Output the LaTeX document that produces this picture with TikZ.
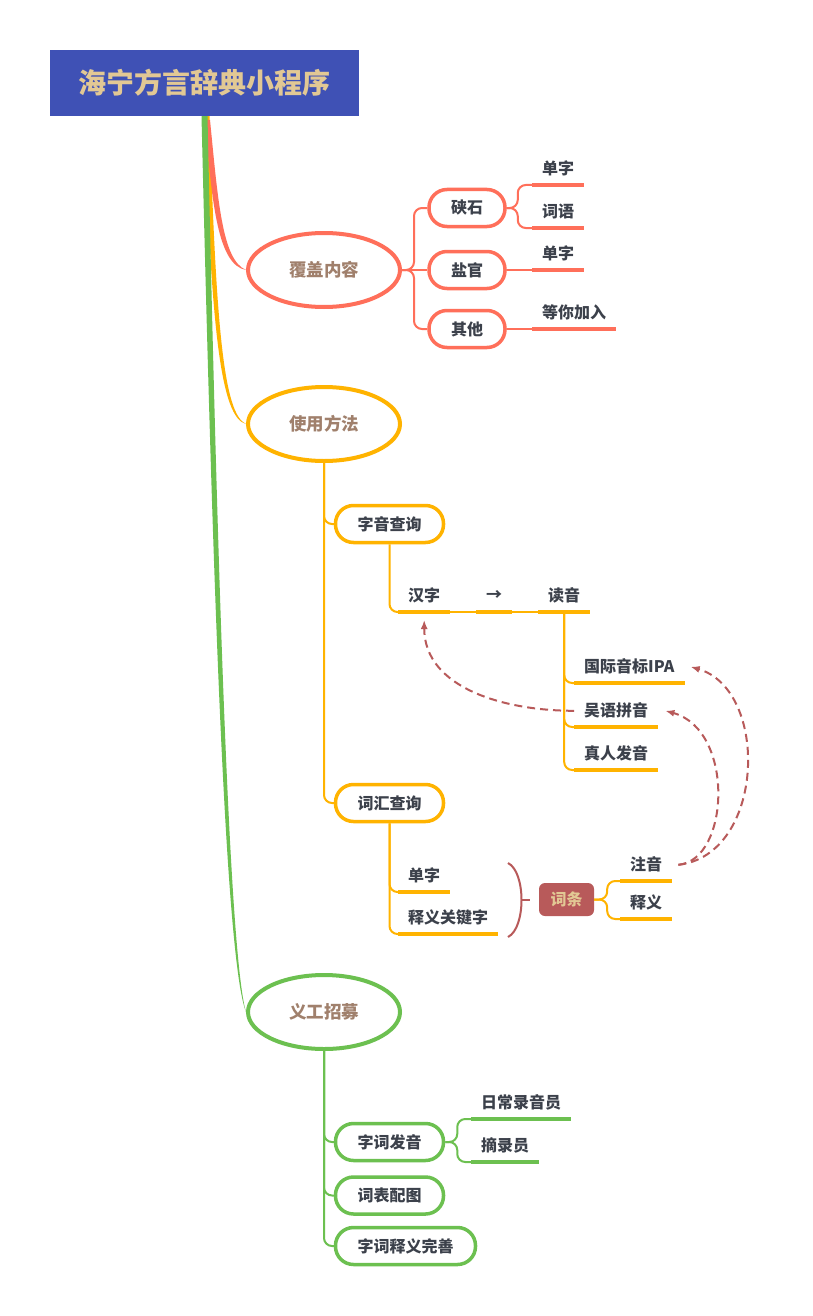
\documentclass[tikz,border=0pt]{standalone}
\usepackage{fontspec}
\setmainfont{Noto Sans CJK SC}
\usetikzlibrary{shapes.geometric,arrows.meta,positioning}

\definecolor{titleblue}{RGB}{63,81,181}
\definecolor{titletan}{RGB}{226,200,148}
\definecolor{mapred}{RGB}{255,111,90}
\definecolor{maporange}{RGB}{255,179,0}
\definecolor{mapgreen}{RGB}{108,192,80}
\definecolor{topicbrown}{RGB}{160,128,108}
\definecolor{inkgray}{RGB}{60,65,75}
\definecolor{entryred}{RGB}{184,90,90}

\tikzset{
	topic/.style={ellipse, draw, line width=4pt, minimum width=152pt, minimum height=74pt, text=topicbrown, font=\bfseries\fontsize{17.5}{18}\selectfont},
	pill/.style={draw, rounded corners=18pt, line width=3.5pt, minimum height=37pt, inner xsep=22pt, text=inkgray, font=\bfseries\fontsize{16}{16}\selectfont},
	leaf/.style={anchor=south west, inner xsep=10pt, inner ysep=0pt, minimum height=32pt, text=inkgray, font=\bfseries\fontsize{16}{16}\selectfont},
	uline/.style={line width=3.5pt},
	link/.style={line width=2pt, rounded corners=8pt},
	hint/.style={entryred, line width=2pt, dash pattern=on 8pt off 5pt, -{Latex[length=9pt,width=7pt]}},
}

\begin{document}
\begin{tikzpicture}[x=1pt,y=-1pt]
\fill[white] (0,0) rectangle (813,1316);
\useasboundingbox (0,0) rectangle (813,1316);

% title and the three topics
\node[fill=titleblue, minimum width=309pt, minimum height=66pt, text=titletan, font=\bfseries\fontsize{28}{28}\selectfont] (title) at (204.5,83) {海宁方言辞典小程序};
\node[topic, draw=mapred] (cover) at (324,270) {覆盖内容};
\node[topic, draw=maporange] (use) at (324,424) {使用方法};
\node[topic, draw=mapgreen] (vol) at (324,1012) {义工招募};

% tapered trunks
\fill[maporange] ([xshift=0pt]title.south) .. controls (211,330) and (221,418) .. (use.west)
	.. controls (224,414) and (216,330) .. ([xshift=5pt]title.south) -- cycle;
\fill[mapred] (205,120) .. controls (212,205) and (218,265) .. (cover.west)
	.. controls (222,260) and (218,200) .. (210,120) -- cycle;
\fill[mapgreen] ([xshift=-3pt]title.south) .. controls (213,600) and (226,962) .. (vol.west)
	.. controls (230,958) and (218,600) .. ([xshift=3pt]title.south) -- cycle;

% covered content
\node[pill, draw=mapred] (xs) at (467,208) {硖石};
\node[pill, draw=mapred] (yg) at (467,270) {盐官};
\node[pill, draw=mapred] (qt) at (467,329) {其他};
\node[leaf] (xs1) at (532,185) {单字};
\node[leaf] (xs2) at (532,228) {词语};
\node[leaf] (yg1) at (532,270) {单字};
\node[leaf] (qt1) at (532,329) {等你加入};

\draw[link, mapred] (cover.east) -- (yg.west);
\draw[link, mapred] (cover.east) -- ++(12,0) |- (xs.west);
\draw[link, mapred] (cover.east) -- ++(12,0) |- (qt.west);
\draw[link, mapred] (xs.east) -- ++(11,0) |- (xs1.south west);
\draw[link, mapred] (xs.east) -- ++(11,0) |- (xs2.south west);
\draw[link, mapred] (yg.east) -- (yg1.south west);
\draw[link, mapred] (qt.east) -- (qt1.south west);
\foreach \n in {xs1,xs2,yg1,qt1}
	\draw[uline, mapred] (\n.south west) -- (\n.south east);

% usage
\node[pill, draw=maporange] (zy) at (389.5,524) {字音查询};
\node[pill, draw=maporange] (ch) at (389.5,803) {词汇查询};
\node[leaf] (hz) at (398,612) {汉字};
\node[leaf] (arr) at (476,612) {→};
\node[leaf] (dy) at (538,612) {读音};
\node[leaf] (ipa) at (574,683) {国际音标IPA};
\node[leaf] (wy) at (574,727) {吴语拼音};
\node[leaf] (zr) at (574,770) {真人发音};
\node[leaf] (dz) at (398,892) {单字};
\node[leaf] (sy) at (398,934) {释义关键字};
\node[fill=entryred, rounded corners=6pt, minimum width=55pt, minimum height=33pt, text=titletan, font=\bfseries\fontsize{16}{16}\selectfont] (entry) at (566.5,899.5) {词条};
\node[leaf] (zy1) at (620,881) {注音};
\node[leaf] (sy2) at (620,919) {释义};

\draw[link, maporange] (use.south) |- (zy.west);
\draw[link, maporange] (use.south) |- (ch.west);
\draw[link, maporange] (zy.south) |- (hz.south west);
\draw[link, maporange] (hz.south east) -- (arr.south west);
\draw[link, maporange] (arr.south east) -- (dy.south west);
\draw[link, maporange] (dy.south) |- (ipa.south west);
\draw[link, maporange] (dy.south) |- (wy.south west);
\draw[link, maporange] (dy.south) |- (zr.south west);
\draw[link, maporange] (ch.south) |- (dz.south west);
\draw[link, maporange] (ch.south) |- (sy.south west);
\draw[link, maporange] (entry.east) -- ++(13,0) |- (zy1.south west);
\draw[link, maporange] (entry.east) -- ++(13,0) |- (sy2.south west);
\foreach \n in {hz,arr,dy,ipa,wy,zr,dz,sy,zy1,sy2}
	\draw[uline, maporange] (\n.south west) -- (\n.south east);

% brace before the entry
\draw[entryred, line width=2pt] (508,863) .. controls (526,872) and (526,928) .. (508,937);
\draw[entryred, line width=2pt] (521.5,900) -- (530,900);

% hints
\draw[hint] (wy.west) to[out=180, in=270] ([yshift=-8pt]hz.south);
\draw[hint] ([xshift=6pt]zy1.east) .. controls (730,860) and (735,730) .. ([xshift=7pt]wy.east);
\draw[hint] ([xshift=6pt]zy1.east) .. controls (765,855) and (770,690) .. ([xshift=6pt]ipa.east);

% volunteers
\node[pill, draw=mapgreen] (fy) at (389.5,1142) {字词发音};
\node[pill, draw=mapgreen] (bt) at (389.5,1195.5) {词表配图};
\node[pill, draw=mapgreen] (ws) at (405.5,1246) {字词释义完善};
\node[leaf] (rc) at (471,1119) {日常录音员};
\node[leaf] (zl) at (471,1162) {摘录员};

\draw[link, mapgreen] (vol.south) |- (fy.west);
\draw[link, mapgreen] (vol.south) |- (bt.west);
\draw[link, mapgreen] (vol.south) |- (ws.west);
\draw[link, mapgreen] (fy.east) -- ++(12,0) |- (rc.south west);
\draw[link, mapgreen] (fy.east) -- ++(12,0) |- (zl.south west);
\foreach \n in {rc,zl}
	\draw[uline, mapgreen] (\n.south west) -- (\n.south east);
\end{tikzpicture}
\end{document}
